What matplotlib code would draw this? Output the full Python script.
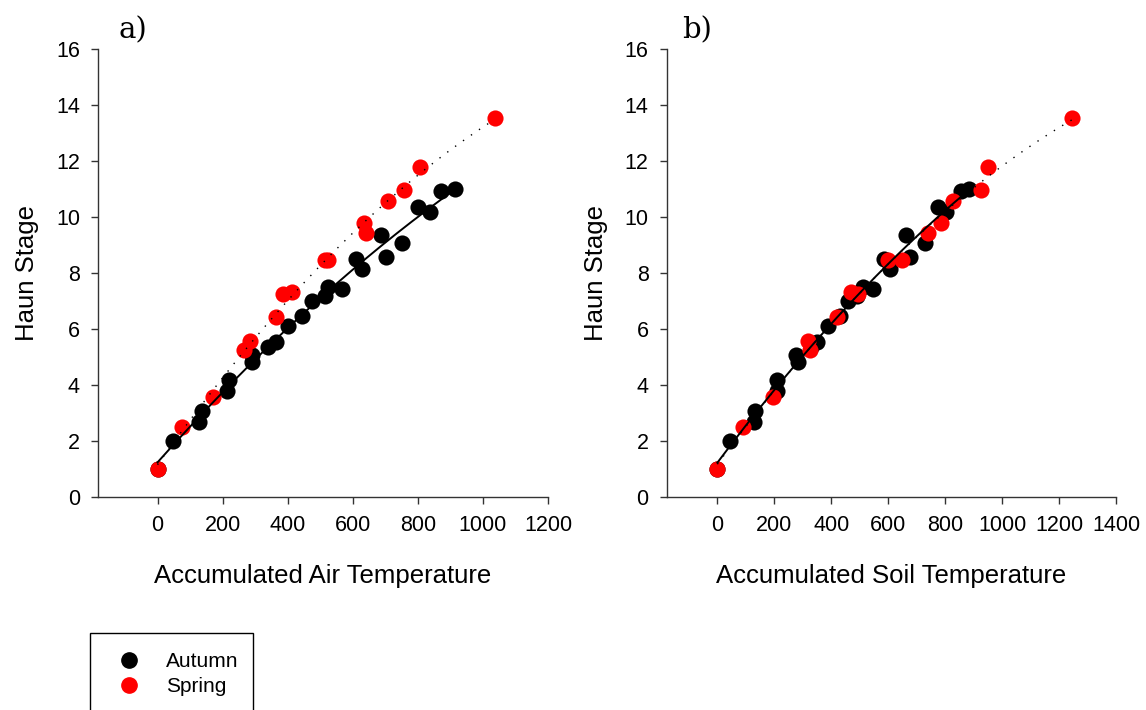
import numpy as np
import matplotlib
matplotlib.use("Agg")
import matplotlib.pyplot as plt
from matplotlib.patches import Rectangle
from matplotlib.lines import Line2D

# ---- data ----
autumn_y = [1.0, 1.99, 2.67, 3.05, 3.79, 4.17, 4.82, 5.06, 5.33, 5.52, 6.10, 6.45, 7.00,
            7.17, 7.50, 7.43, 8.50, 8.12, 9.35, 8.57, 9.05, 10.35, 10.17, 10.93, 10.98]
air_autumn_x = [0, 49, 127, 136, 212, 220, 291, 291, 340, 363, 400, 445, 475,
                515, 525, 566, 609, 628, 687, 701, 752, 799, 836, 872, 914]
soil_autumn_x = [0, 46, 130, 132, 208, 208, 282, 276, 330, 351, 387, 430, 460,
                 490, 512, 547, 586, 606, 664, 678, 729, 775, 802, 855, 884]

spring_y = [1.0, 2.48, 3.57, 5.24, 5.55, 6.43, 7.24, 7.31, 8.45, 8.45, 9.76, 9.43,
            10.55, 10.95, 11.76, 13.54]
air_spring_x = [0, 74, 169, 266, 285, 364, 386, 412, 514, 524, 634, 640,
                707, 758, 808, 1036]
soil_spring_x = [0, 91, 194, 327, 319, 419, 494, 471, 600, 649, 784, 738,
                 828, 925, 949, 1247]

yticks = [0, 2, 4, 6, 8, 10, 12, 14, 16]
air_xticks = [0, 200, 400, 600, 800, 1000, 1200]
soil_xticks = [0, 200, 400, 600, 800, 1000, 1200, 1400]

W, H = 1146, 710
fig = plt.figure(figsize=(W / 100, H / 100), dpi=100)

sans = "Liberation Sans"
serif = "DejaVu Serif"


def make_axes(rect, ax_x, ax_y, sp_x, sp_y, xticks, xlim, xlabel, tag, tagx):
    ax = fig.add_axes(rect)
    ax.scatter(ax_x, ax_y, s=135, color="black", zorder=3, linewidths=0)
    ax.scatter(sp_x, sp_y, s=135, color="#ff0000", zorder=4, linewidths=0)
    # quadratic regressions
    ca = np.polyfit(ax_x, ax_y, 2)
    xa = np.linspace(0, max(ax_x), 200)
    ax.plot(xa, np.polyval(ca, xa), color="black", lw=1.4, zorder=5)
    cs = np.polyfit(sp_x, sp_y, 2)
    xs = np.linspace(0, max(sp_x), 200)
    ax.plot(xs, np.polyval(cs, xs), color="black", lw=1.0,
            linestyle=(0, (1, 6)), zorder=5)
    ax.set_xlim(*xlim)
    ax.set_ylim(0, 16)
    ax.set_xticks(xticks)
    ax.set_yticks(yticks)
    for s in ["top", "right"]:
        ax.spines[s].set_visible(False)
    for s in ["left", "bottom"]:
        ax.spines[s].set_linewidth(1.0)
        ax.spines[s].set_color("#333333")
    ax.tick_params(direction="out", length=5, width=1.0, color="#333333",
                   labelsize=15.5, pad=8)
    for lbl in ax.get_xticklabels() + ax.get_yticklabels():
        lbl.set_fontfamily(sans)
    ax.set_xlabel(xlabel, fontsize=18.5, fontfamily=sans, labelpad=20)
    ax.set_ylabel("Haun Stage", fontsize=18.5, fontfamily=sans, labelpad=12)
    fig.text(tagx / W, 1 - 38 / H, tag, fontsize=21, fontfamily=serif)
    return ax


axl = make_axes([98 / W, 1 - 496.7 / H, 450 / W, 448 / H],
                air_autumn_x, autumn_y, air_spring_x, spring_y,
                air_xticks, (-183, 1200), "Accumulated Air Temperature", "a)", 119)
axr = make_axes([666.7 / W, 1 - 496.7 / H, 449.3 / W, 448 / H],
                soil_autumn_x, autumn_y, soil_spring_x, spring_y,
                soil_xticks, (-178, 1400), "Accumulated Soil Temperature", "b)", 682)

# legend box (extends past the bottom edge)
fig.add_artist(Rectangle((90 / W, -0.05), (253 - 90) / W, (1 - 632.7 / H) + 0.05,
                         transform=fig.transFigure, fill=False, edgecolor="black",
                         lw=1.0))
handles = [Line2D([], [], marker="o", color="black", linestyle="none", markersize=11),
           Line2D([], [], marker="o", color="#ff0000", linestyle="none", markersize=11)]
fig.legend(handles, ["Autumn", "Spring"], loc="upper left",
           bbox_to_anchor=(119 / W, 1 - 652 / H), frameon=False, borderpad=0,
           borderaxespad=0, handlelength=1.0, handletextpad=1.25, labelspacing=0.3,
           prop={"family": sans, "size": 15})

fig.savefig("out.png", dpi=100)
